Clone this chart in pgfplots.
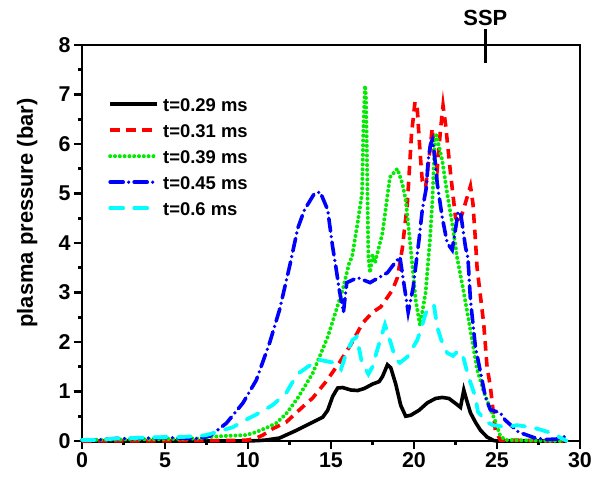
\documentclass[border=0pt]{standalone}
\usepackage{fontspec}
\setmainfont{Liberation Sans}
\usepackage{pgfplots}
\pgfplotsset{compat=1.18}
\definecolor{cgreen}{RGB}{0,235,0}
\definecolor{ccyan}{RGB}{0,255,255}
\definecolor{cred}{RGB}{255,0,0}
\definecolor{cblue}{RGB}{0,0,255}
\begin{document}
\begin{tikzpicture}
\path[use as bounding box] (-82bp,-39bp) rectangle (517bp,441bp);
\begin{axis}[
  at={(0,0)}, anchor=origin,
  scale only axis, width=498bp, height=396bp,
  xmin=0, xmax=30, ymin=0, ymax=8,
  xtick={0,5,...,30}, ytick={0,1,...,8},
  minor x tick num=1, minor y tick num=1,
  tick align=outside, xtick pos=left, ytick pos=left,
  major tick length=8bp, minor tick length=4bp,
  axis line style={line width=2.8bp},
  tick style={line width=2.6bp, black},
  clip=false,
  /pgf/number format/assume math mode=true,
  ticklabel style={font=\fontsize{21.5}{21.5}\selectfont\bfseries},
  ylabel={plasma pressure (bar)},
  ylabel style={at={(axis description cs:-0.0984,0.5758)}, anchor=base, font=\fontsize{22}{22}\selectfont\bfseries},
  legend image code/.code={\draw[#1] (0bp,0.3em) -- (47bp,0.3em);},
  legend cell align=left,
  legend style={at={(axis description cs:0.0522,0.865)}, anchor=north west, draw=none, fill=none,
    inner sep=0pt, row sep=9bp, column sep=4bp,
    nodes={inner sep=0pt, text height=13bp, text depth=4bp, font=\fontsize{18.5}{18.5}\selectfont\bfseries}},
]
% t=0.29 ms
\addplot[black, line width=3.6bp] coordinates {
(0,0) (10,0) (10.7,0.01) (11.1,0.02) (11.9,0.06) (12.95,0.22) (13.6,0.33) (14.2,0.43) (14.5,0.48) (14.8,0.62) (15.1,0.9) (15.4,1.07) (15.7,1.08) (16.2,1.03) (16.6,1.02) (17.0,1.06) (17.5,1.15) (17.9,1.20) (18.1,1.30) (18.4,1.54) (18.6,1.48) (18.9,1.15) (19.2,0.72) (19.5,0.50) (19.8,0.52) (20.3,0.62) (20.8,0.77) (21.3,0.86) (21.7,0.88) (22.1,0.86) (22.5,0.76) (22.8,0.68) (23.0,1.03) (23.15,0.85) (23.4,0.57) (23.7,0.38) (24.0,0.22) (24.4,0.08) (24.8,0.01) (25,0) (29.2,0)
};
\addlegendentry{t=0.29 ms}
% t=0.31 ms
\addplot[cred, line width=3.6bp, dash pattern=on 9.5bp off 6.5bp] coordinates {
(0,0) (9,0.01) (10,0.02) (10.5,0.06) (10.9,0.12) (11.5,0.25) (12.3,0.38) (13,0.6) (13.9,0.87) (14.7,1.2) (15.5,1.58) (16.2,1.95) (16.9,2.38) (17.5,2.6) (18.0,2.71) (18.7,3.05) (19.0,3.3) (19.3,3.9) (19.6,4.8) (19.85,6.2) (20.06,6.85) (20.2,6.7) (20.35,5.9) (20.5,5.25) (20.7,5.13) (20.9,5.7) (21.1,6.32) (21.25,5.7) (21.4,5.5) (21.6,6.3) (21.75,6.78) (21.9,6.4) (22.2,5.41) (22.5,4.52) (22.7,4.38) (23.0,4.7) (23.4,5.15) (23.55,4.8) (23.7,4.06) (23.8,3.5) (24.2,2.37) (24.4,1.5) (24.6,1.1) (24.9,0.22) (25.2,0.02) (29,0)
};
\addlegendentry{t=0.31 ms}
% t=0.39 ms
\addplot[cgreen, line width=4bp, line cap=round, dash pattern=on 0bp off 4.8bp] coordinates {
(0,0.02) (2,0.03) (5,0.04) (7,0.05) (7.7,0.08) (8.5,0.1) (9.9,0.12) (10.5,0.18) (11.2,0.28) (11.7,0.36) (12.3,0.55) (13,0.87) (13.9,1.37) (14.8,2.1) (15.7,3.05) (16.1,3.6) (16.27,3.72) (16.6,4.4) (16.87,5.0) (16.95,6.3) (17.05,7.18) (17.1,7.0) (17.15,6.1) (17.25,3.72) (17.35,3.4) (17.5,3.75) (17.65,3.6) (17.8,3.8) (18.1,4.2) (18.55,5.33) (19.0,5.5) (19.3,5.2) (19.5,4.87) (19.8,3.9) (20.1,2.85) (20.36,2.34) (20.7,3.0) (20.96,4.06) (21.1,4.8) (21.27,6.14) (21.35,6.18) (21.7,5.67) (22.0,5.0) (22.3,4.4) (22.6,3.7) (23.0,3.0) (23.4,2.24) (23.8,1.45) (24.2,1.0) (24.6,0.65) (24.9,0.4) (25.2,0.1) (25.5,0.02) (29,0)
};
\addlegendentry{t=0.39 ms}
% t=0.45 ms
\addplot[cblue, line width=3.6bp, line cap=round, dash pattern=on 13bp off 5.5bp on 0bp off 5.5bp] coordinates {
(0,0.02) (1,0.02) (2,0.05) (3,0.05) (5,0.07) (6,0.06) (7,0.05) (7.7,0.1) (8.7,0.36) (9.7,0.77) (10.5,1.23) (11.3,1.98) (11.9,2.65) (12.5,3.52) (13.0,4.3) (13.4,4.67) (14.0,5.0) (14.35,5.03) (14.8,4.67) (15.1,3.92) (15.3,3.5) (15.5,3.05) (15.75,2.6) (15.95,3.2) (16.6,3.3) (17.35,3.2) (18.4,3.4) (18.85,3.6) (19.15,3.72) (19.45,3.05) (19.65,2.6) (19.95,3.1) (20.15,3.66) (20.3,4.06) (20.5,4.67) (20.75,5.13) (20.85,5.67) (21.0,6.0) (21.1,6.08) (21.2,5.9) (21.4,5.2) (21.7,4.52) (22.0,4.0) (22.3,3.86) (22.65,4.6) (22.8,4.63) (23.1,3.92) (23.25,3.7) (23.4,2.85) (23.7,1.9) (24.0,1.4) (24.3,0.89) (24.6,0.63) (25.2,0.57) (25.5,0.42) (26.3,0.18) (26.8,0.12) (27.3,0.06) (28,0.03) (28.6,0.04) (29.2,0.1)
};
\addlegendentry{t=0.45 ms}
% t=0.6 ms
\addplot[ccyan, line width=3.8bp, line cap=round, dash pattern=on 13bp off 11bp] coordinates {
(0,0.02) (1,0.02) (2,0.05) (3,0.06) (4,0.07) (5,0.08) (6,0.08) (7,0.1) (7.5,0.12) (7.9,0.16) (9.1,0.28) (9.7,0.4) (10.7,0.57) (11.5,0.73) (12.3,0.97) (12.7,1.2) (13.1,1.38) (13.6,1.5) (14.3,1.64) (15.2,1.58) (15.6,1.45) (15.95,1.8) (16.3,2.04) (16.55,2.1) (16.85,1.6) (17.25,1.35) (17.5,1.5) (17.75,1.8) (18.0,2.08) (18.25,2.35) (18.6,1.98) (18.9,1.65) (19.15,1.58) (19.6,1.7) (20.2,2.04) (20.5,2.35) (20.7,2.58) (21.0,2.7) (21.2,2.75) (21.4,2.3) (21.7,1.98) (22.0,1.78) (22.35,1.72) (22.65,1.82) (22.95,1.72) (23.25,1.33) (23.7,0.89) (23.85,0.59) (24.4,0.38) (24.75,0.32) (25.6,0.28) (26.2,0.32) (27.0,0.28) (27.5,0.24) (28.3,0.16) (29.2,0.0)
};
\addlegendentry{t=0.6 ms}
% SSP marker
\draw[line width=2.8bp] (axis cs:24.32,8) ++(0,16bp) -- ++(0,-34bp);
\node[anchor=base, font=\fontsize{22}{22}\selectfont\bfseries, inner sep=0pt] at ([yshift=20bp]axis cs:24.3,8) {SSP};
\end{axis}
\end{tikzpicture}
\end{document}
